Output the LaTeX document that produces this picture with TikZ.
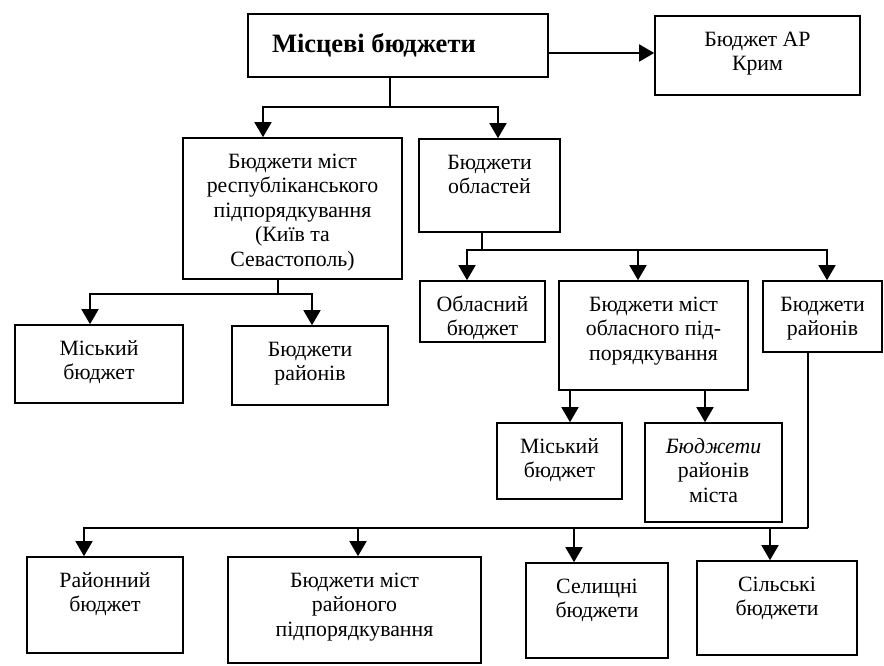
\documentclass[tikz,border=0pt]{standalone}
\usepackage{fontspec}
\setmainfont{Liberation Serif}
\usetikzlibrary{arrows.meta}
\newcommand\bx[6]{\node[box] (#1) at (#2,#3) {\parbox[c][#5pt][t]{#4pt}{\centering\vspace*{13pt}\strut #6\par}};}
\tikzset{
  box/.style={draw, line width=1.6pt, inner sep=0pt, font=\fontsize{21.8}{24.5}\selectfont},
  ln/.style={line width=1.6pt},
  arr/.style={line width=1.6pt, -{Triangle[width=17pt,length=15pt]}}
}
\begin{document}
\begin{tikzpicture}[x=1pt,y=-1pt]
\useasboundingbox (0,0) rectangle (884,666);
% boxes
\node[box] (top) at (398,45.5) {\parbox[c][63pt][c]{300pt}{\hspace*{24pt}\fontsize{26.5}{30}\selectfont\bfseries Місцеві бюджети}};
\bx{krym}{757.5}{55.5}{205}{79}{Бюджет АР\\Крим}
\bx{rep}{292.5}{208.5}{219}{141}{Бюджети міст\\республіканського\\підпорядкування\\(Київ та\\Севастополь)}
\bx{obl}{489.5}{185.5}{141}{93}{Бюджети\\областей}
\bx{mL}{99}{364}{168}{78}{Міський\\бюджет}
\bx{rL}{310}{365.5}{156}{79}{Бюджети\\районів}
\bx{oblB}{482.5}{311.5}{125}{61}{Обласний\\бюджет}
\bx{obM}{653.5}{335.5}{189}{109}{Бюджети міст\\обласного під-\\порядкування}
\bx{rR}{822.5}{316.5}{119}{71}{Бюджети\\районів}
\bx{mM}{559.5}{461}{125}{76}{Міський\\бюджет}
\bx{rM}{713.5}{472.5}{137}{99}{{\itshape Бюджети}\\районів\\міста}
\bx{rn}{105}{605}{156}{96}{Районний\\бюджет}
\bx{rmr}{354.5}{610}{253}{106}{Бюджети міст\\районого\\підпорядкування}
\bx{sel}{597}{610.5}{142}{95}{Селищні\\бюджети}
\bx{sil}{777}{608}{160}{94}{Сільські\\бюджети}
% junctions
\coordinate (j1) at (390,107);
\coordinate (j2) at (278,294);
\coordinate (j3) at (482,250);
\coordinate (j4) at (808,528);
% connectors
\draw[arr] ([yshift=-7.5pt]top.east) -- ([yshift=-7.5pt]top.east -| krym.west);
\draw[ln] ([xshift=-8pt]top.south) -- (j1);
\draw[arr] (j1) -| ([xshift=-29.5pt]rep.north);
\draw[arr] (j1) -| ([xshift=8.5pt]obl.north);
\draw[ln] ([xshift=-14.5pt]rep.south) -- (j2);
\draw[arr] (j2) -| ([xshift=-9pt]mL.north);
\draw[arr] (j2) -| ([xshift=2pt]rL.north);
\draw[ln] ([xshift=-7.5pt]obl.south) -- (j3);
\draw[arr] (j3) -| ([xshift=-15.5pt]oblB.north);
\draw[arr] (j3) -| ([xshift=-15.5pt]obM.north);
\draw[arr] (j3) -| ([xshift=4.5pt]rR.north);
\draw[arr] ([xshift=10.5pt]mM.north |- obM.south) -- ([xshift=10.5pt]mM.north);
\draw[arr] ([xshift=-8.5pt]rM.north |- obM.south) -- ([xshift=-8.5pt]rM.north);
\draw[ln] ([xshift=-14.5pt]rR.south) -- (j4);
\draw[arr] (j4) -| ([xshift=-21pt]rn.north);
\draw[arr] (j4) -| ([xshift=3.5pt]rmr.north);
\draw[arr] (j4) -| ([xshift=-23pt]sel.north);
\draw[arr] (j4) -| ([xshift=-7pt]sil.north);
\end{tikzpicture}
\end{document}
